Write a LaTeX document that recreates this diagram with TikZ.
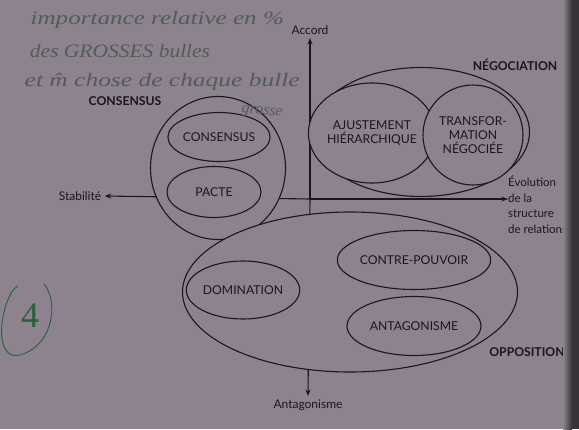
\documentclass[tikz,border=0pt]{standalone}
\usepackage{fontspec}
\setmainfont{Lato}
\newfontfamily\handfont{Liberation Serif}
\usetikzlibrary{arrows.meta,shapes.geometric}
\definecolor{paper}{RGB}{140,131,142}
\definecolor{ink}{RGB}{26,22,28}
\definecolor{pencil}{RGB}{84,90,86}
\definecolor{greenink}{RGB}{38,96,60}
\definecolor{edge}{RGB}{55,50,56}
\begin{document}
\begin{tikzpicture}[x=1pt,y=-1pt,
  bubble/.style={ellipse, draw=ink, line width=1.1pt, fill=paper, inner sep=0pt,
    font=\fontsize{12.2}{14}\selectfont, text=ink, align=center},
  group/.style={font=\bfseries\fontsize{12.2}{14}\selectfont, text=ink},
  axislabel/.style={font=\fontsize{12}{14}\selectfont, text=ink},
  axis/.style={draw=ink, line width=1.1pt, -{Stealth[length=6.5pt,width=5pt]}},
  hand/.style={font=\handfont\itshape\fontsize{19}{22}\selectfont, text=pencil, anchor=west},
]
\fill[paper] (0,0) rectangle (579,429);
\useasboundingbox (0,0) rectangle (579,429);

% axes
\coordinate (origin) at (310,199);
\node[axislabel] (accord) at (310,30) {Accord};
\node[axislabel] (stab) at (80,196) {Stabilité};
\node[axislabel] (antag) at (308,405) {Antagonisme};
\node[axislabel, font=\fontsize{11.5}{15.5}\selectfont, anchor=north west, align=left, inner sep=0pt]
  (evol) at (508,176) {Évolution\\de la\\structure\\de relations};
\coordinate (evtip) at (evol.west |- origin);
\draw[axis] (origin) -- (accord.south);
\draw[axis] (origin) -- (stab.east);
\draw[axis] (origin) -- (evtip);
\draw[axis] (origin) -- (antag.north);

% consensus group
\node[bubble, minimum width=135pt, minimum height=143pt] (consO) at (218,168) {};
\node[bubble, minimum width=92pt, minimum height=49pt] (cons) at (219,137) {CONSENSUS};
\node[bubble, minimum width=94pt, minimum height=51pt] (pacte) at (214,192) {PACTE};
\node[group] (consT) at (125,101) {CONSENSUS};

% negotiation group
\node[bubble, minimum width=217pt, minimum height=129pt] (negO) at (421,132) {};
\node[bubble, minimum width=100pt, minimum height=100pt] (ajust) at (372,133)
  {AJUSTEMENT\\HIÉRARCHIQUE};
\node[bubble, minimum width=100pt, minimum height=100pt] (transf) at (473,135)
  {TRANSFOR-\\MATION\\NÉGOCIÉE};
\node[group] (negT) at (515,65) {NÉGOCIATION};

% opposition group
\node[bubble, minimum width=335pt, minimum height=160pt] (oppO) at (350,292) {};
\node[bubble, minimum width=100pt, minimum height=58pt] (domin) at (243,290) {DOMINATION};
\node[bubble, minimum width=132pt, minimum height=59pt] (contre) at (414,260) {CONTRE-POUVOIR};
\node[bubble, minimum width=134pt, minimum height=59pt] (antagB) at (414,326) {ANTAGONISME};
\node[group] (oppT) at (527,352) {OPPOSITION};

% pencil notes
\node[hand, xscale=1.32] (h1) at (26,20) {importance relative en \%};
\node[hand, xscale=1.13] (h2) at (26,51) {des GROSSES bulles};
\node[hand, xscale=1.34] (h3) at (20,82) {et \^m chose de chaque bulle};
\node[hand, font=\handfont\itshape\fontsize{16}{18}\selectfont, rotate=-6] (h4) at (238,110) {grosse};

% circled number
\node[text=greenink, font=\handfont\fontsize{36}{38}\selectfont] (num) at (30,316) {4};
\draw[greenink, line width=0.9pt] (44,284) .. controls (58,300) and (55,345) .. (20,355)
  .. controls (0,360) and (-2,330) .. (6,305) .. controls (10,293) and (14,288) .. (18,286);

% page edge
\shade[left color=paper, right color=edge] (563,0) rectangle (572,429);
\fill[edge] (572,0) rectangle (579,429);
\end{tikzpicture}
\end{document}
